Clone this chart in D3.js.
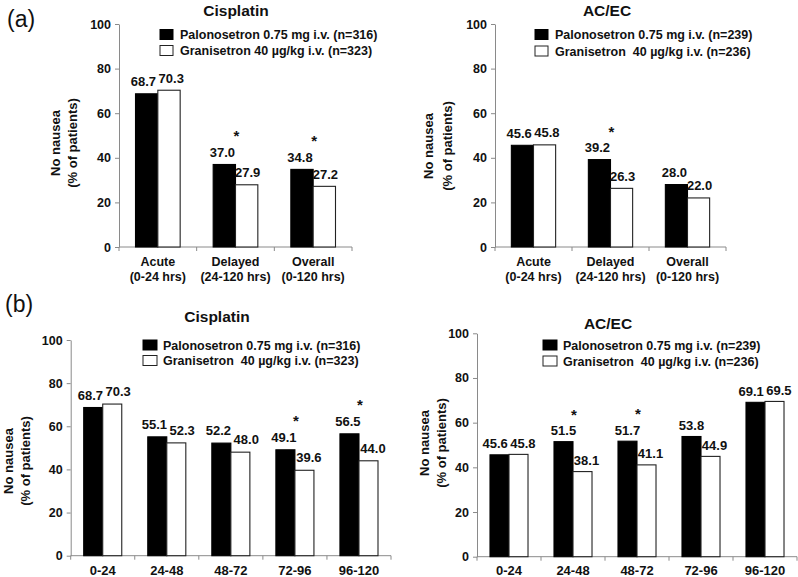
<!DOCTYPE html>
<html><head><meta charset="utf-8">
<script src="https://cdn.jsdelivr.net/npm/d3@7"></script>
<style>
body{margin:0;background:#fff}
text{font-family:"Liberation Sans",Arial,Helvetica,sans-serif;fill:#111}
</style>
</head><body>
<svg id="chart" width="798" height="577"></svg>
<script>
// ---------- data ----------
const yTicks = [0, 20, 40, 60, 80, 100];
const categoriesA = [["Acute", "(0-24 hrs)"], ["Delayed", "(24-120 hrs)"], ["Overall", "(0-120 hrs)"]];
const categoriesB = ["0-24", "24-48", "48-72", "72-96", "96-120"];

const cisA_palo = [68.7, 37.0, 34.8];
const cisA_gran = [70.3, 27.9, 27.2];
const cisA_sig  = [false, true, true];

const acA_palo = [45.6, 39.2, 28.0];
const acA_gran = [45.8, 26.3, 22.0];
const acA_sig  = [false, true, false];

const cisB_palo = [68.7, 55.1, 52.2, 49.1, 56.5];
const cisB_gran = [70.3, 52.3, 48.0, 39.6, 44.0];
const cisB_sig  = [false, false, false, true, true];

const acB_palo = [45.6, 51.5, 51.7, 53.8, 69.1];
const acB_gran = [45.8, 38.1, 41.1, 44.9, 69.5];
const acB_sig  = [false, true, true, false, false];

const legendCisA = ["Palonosetron 0.75 mg i.v. (n=316)", "Granisetron 40 \u00b5g/kg i.v. (n=323)"];
const legendCisB = ["Palonosetron 0.75 mg i.v. (n=316)", "Granisetron\u00a0 40 \u00b5g/kg i.v. (n=323)"];
const legendAC   = ["Palonosetron 0.75 mg i.v. (n=239)", "Granisetron\u00a0 40 \u00b5g/kg i.v. (n=236)"];
const yLabel = ["No nausea", "(% of patients)"];

// ---------- drawing ----------
const svg = d3.select("#chart");
const FONT = '"Liberation Sans",Arial,Helvetica,sans-serif';
const LBL_W = 25.3; // approx width of a "00.0" label at 13px bold
const STAR_SIZE = 15;

function drawPanel(c) {
  const g = svg.append("g");
  const n = c.cats.length;
  const x0 = d3.scaleBand().domain(d3.range(n)).range(c.xr).paddingInner(c.pad).paddingOuter(c.pad / 2);
  const x1 = d3.scaleBand().domain([0, 1]).range([0, x0.bandwidth()]);
  const y = d3.scaleLinear().domain([0, 100]).range(c.yr);
  const y0 = y(0);

  // y axis
  const ya = g.append("g").attr("transform", `translate(${c.xr[0]},0)`)
    .call(d3.axisLeft(y).tickValues(yTicks).tickSize(4).tickSizeOuter(0).tickPadding(4));
  ya.select(".domain").attr("stroke", "#8a8a8a");
  ya.selectAll(".tick line").attr("stroke", "#8a8a8a");
  ya.selectAll(".tick text").attr("font-family", FONT).attr("font-size", 12.5)
    .attr("font-weight", "bold").attr("fill", "#111");

  // x axis line + boundary ticks
  g.append("line").attr("x1", c.xr[0]).attr("x2", c.xr[1]).attr("y1", y0).attr("y2", y0)
    .attr("stroke", "#8a8a8a");
  const half = x0.step() * c.pad / 2;
  const bounds = d3.range(n).map(i => x0(i) - half).concat([x0(n - 1) + x0.bandwidth() + half]);
  g.selectAll(".bt").data(bounds).join("line")
    .attr("x1", d => d).attr("x2", d => d).attr("y1", y0).attr("y2", y0 + 4)
    .attr("stroke", "#8a8a8a");

  // category labels
  c.cats.forEach((lab, i) => {
    const lines = Array.isArray(lab) ? lab : [lab];
    const t = g.append("text").attr("text-anchor", "middle")
      .attr("font-size", c.catSize).attr("font-weight", "bold");
    lines.forEach((ln, j) => {
      t.append("tspan").attr("x", x0(i) + x0.bandwidth() / 2)
        .attr("y", c.catY + j * 15).text(ln);
    });
  });

  // bars
  const series = [c.palo, c.gran];
  series.forEach((vals, s) => {
    g.selectAll(".b" + s).data(vals).join("rect")
      .attr("x", (d, i) => x0(i) + x1(s))
      .attr("width", x1.bandwidth())
      .attr("y", d => y(d))
      .attr("height", d => y0 - y(d))
      .attr("fill", s === 0 ? "#000" : "#fff")
      .attr("stroke", s === 0 ? "#000" : "#222")
      .attr("stroke-width", 1.1);
  });

  // value labels, nudged apart where a pair would collide
  d3.range(n).forEach(i => {
    let xb = x0(i) + x1(0) + x1.bandwidth() / 2 + c.dxB;
    let xw = x0(i) + x1(1) + x1.bandwidth() / 2 + c.dxW;
    const yb = y(c.palo[i]) - c.lblGap, yw = y(c.gran[i]) - c.lblGap;
    const need = LBL_W + 2.5;
    if (Math.abs(yb - yw) < 13 && xw - xb < need) {
      const mid = (xb + xw) / 2 + c.midShift;
      xb = mid - need / 2; xw = mid + need / 2;
    }
    [[xb, yb, c.palo[i]], [xw, yw, c.gran[i]]].forEach(([x, yy, v]) => {
      g.append("text").attr("x", x).attr("y", yy)
        .attr("text-anchor", "middle").attr("font-size", 13).attr("font-weight", "bold")
        .text(v.toFixed(1));
    });
  });

  // significance asterisks (placed just clear of the value label)
  c.sig.forEach((sg, i) => {
    if (!sg) return;
    g.append("text").attr("x", x0(i) + x0.bandwidth() / 2 + 1)
      .attr("y", y(c.palo[i]) - c.lblGap - 15.5)
      .attr("text-anchor", "middle").attr("font-size", STAR_SIZE).attr("font-weight", "bold")
      .text("*");
  });

  // title
  g.append("text").attr("x", c.titleX).attr("y", c.titleY).attr("text-anchor", "middle")
    .attr("font-size", 15.5).attr("font-weight", "bold").text(c.title);

  // legend
  c.legend.forEach((txt, k) => {
    const cy = c.legRows[k];
    g.append("rect").attr("x", c.legX).attr("y", cy - 5).attr("width", c.legW).attr("height", 10)
      .attr("fill", k === 0 ? "#000" : "#fff").attr("stroke", k === 0 ? "#000" : "#222")
      .attr("stroke-width", 1);
    g.append("text").attr("x", c.legTX).attr("y", cy + 4.5)
      .attr("font-size", 12.5).attr("font-weight", "bold").text(txt);
  });

  // y label
  yLabel.forEach((t, k) => {
    g.append("text")
      .attr("transform", `translate(${c.ylabX[k] + 4.5},${c.ylabY}) rotate(-90)`)
      .attr("text-anchor", "middle").attr("font-size", 13).attr("font-weight", "bold").text(t);
  });
}

drawPanel({cats: categoriesA, palo: cisA_palo, gran: cisA_gran, sig: cisA_sig, title: "Cisplatin",
  legend: legendCisA, xr: [119, 352], yr: [247, 24], pad: 0.425, catY: 265.5, catSize: 12.5,
  dxB: -2, dxW: 1, midShift: 0, lblGap: 7.5, titleX: 236, titleY: 15.5,
  legX: 160, legW: 13, legRows: [34.5, 50.5], legTX: 180, ylabX: [55, 72.5], ylabY: 143});

drawPanel({cats: categoriesA, palo: acA_palo, gran: acA_gran, sig: acA_sig, title: "AC/EC",
  legend: legendAC, xr: [495, 726], yr: [247, 24], pad: 0.425, catY: 265.5, catSize: 12.5,
  dxB: -2, dxW: 1, midShift: 0, lblGap: 7.5, titleX: 607, titleY: 15.5,
  legX: 535, legW: 13, legRows: [34.5, 51], legTX: 555, ylabX: [428, 447], ylabY: 146});

drawPanel({cats: categoriesB, palo: cisB_palo, gran: cisB_gran, sig: cisB_sig, title: "Cisplatin",
  legend: legendCisB, xr: [70.7, 391], yr: [555.7, 340], pad: 0.406, catY: 575, catSize: 13,
  dxB: -1.5, dxW: 4.5, midShift: 0, lblGap: 8, titleX: 217, titleY: 322,
  legX: 143, legW: 14, legRows: [345, 360.5], legTX: 163, ylabX: [8, 25], ylabY: 461});

drawPanel({cats: categoriesB, palo: acB_palo, gran: acB_gran, sig: acB_sig, title: "AC/EC",
  legend: legendAC, xr: [477, 797], yr: [556.7, 333.3], pad: 0.406, catY: 575, catSize: 13,
  dxB: 0, dxW: 4, midShift: -2, lblGap: 6.5, titleX: 608, titleY: 328.5,
  legX: 543, legW: 14, legRows: [345, 361], legTX: 563, ylabX: [424, 441], ylabY: 443});

// panel tags
svg.append("text").attr("x", 7).attr("y", 27).attr("font-size", 23).text("(a)");
svg.append("text").attr("x", 5).attr("y", 312).attr("font-size", 23).text("(b)");
</script>
</body></html>
